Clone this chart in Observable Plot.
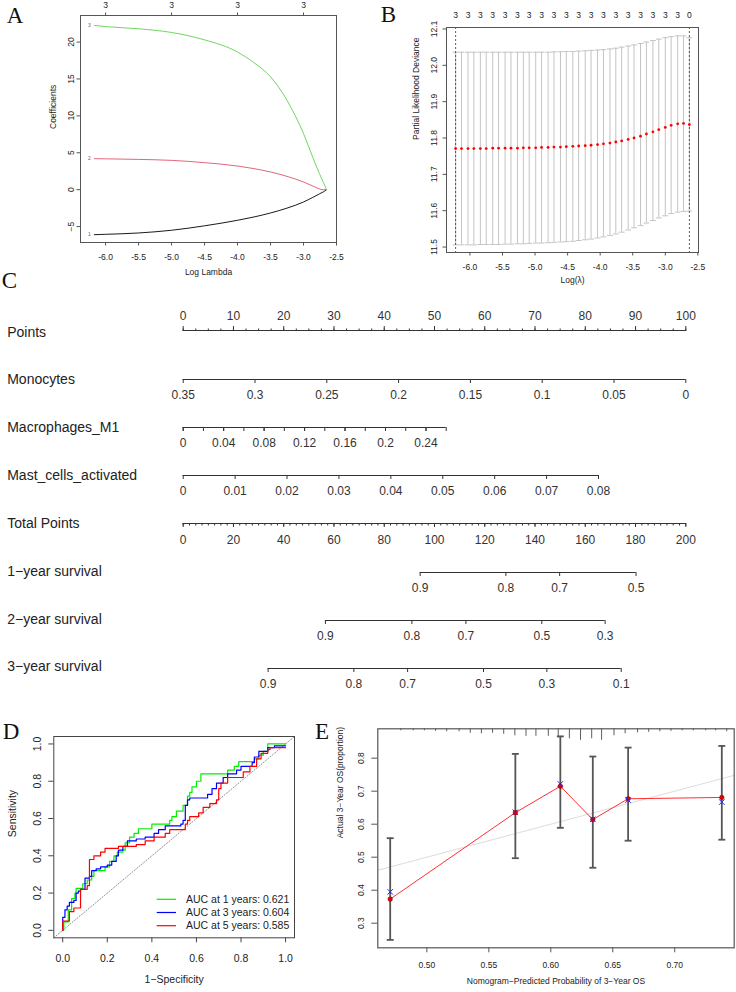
<!DOCTYPE html>
<html><head><meta charset="utf-8">
<script src="https://cdn.jsdelivr.net/npm/d3@7"></script>
<script src="https://cdn.jsdelivr.net/npm/@observablehq/plot@0.6"></script>
<style>
body{margin:0;background:#fff;}
#page{position:relative;width:736px;height:992px;overflow:hidden;background:#fff;}
</style></head><body><div id="page"></div>
<script>
// ---------- Panel A: LASSO coefficient paths ----------
const lambdaA = [-6.17, -6.0, -5.5, -5.0, -4.5, -4.0, -3.75, -3.5, -3.25, -3.0, -2.86, -2.76, -2.70, -2.65];
const coef1 = [-6.1, -6.05, -5.87, -5.5, -4.9, -4.15, -3.7, -3.16, -2.5, -1.67, -1.05, -0.58, -0.3, 0];
const coef2 = [4.2, 4.18, 4.1, 3.97, 3.66, 3.2, 2.85, 2.4, 1.8, 1.04, 0.5, 0.1, 0.0, 0];
const coef3 = [22.26, 22.1, 21.8, 21.3, 20.3, 18.65, 17.2, 15.3, 12.1, 7.6, 4.4, 2.2, 1.0, 0];
const lambdaTicks = [-6.0, -5.5, -5.0, -4.5, -4.0, -3.5, -3.0, -2.5];
const coefTicks = [-5, 0, 5, 10, 15, 20];
const dfAtA = [-6, -5, -4, -3];
const dfLabelsA = ["3", "3", "3", "3"];

// ---------- Panel B: cross-validation ----------
const cvLambda = [-6.22,-6.13,-6.03,-5.94,-5.84,-5.75,-5.65,-5.56,-5.46,-5.37,-5.27,-5.18,-5.09,-4.99,-4.90,-4.80,-4.71,-4.61,-4.52,-4.42,-4.33,-4.23,-4.14,-4.04,-3.95,-3.85,-3.76,-3.67,-3.57,-3.48,-3.38,-3.29,-3.19,-3.10,-3.00,-2.91,-2.81,-2.72,-2.63];
const cvMean = [11.771,11.771,11.771,11.771,11.771,11.771,11.772,11.772,11.772,11.772,11.772,11.773,11.773,11.773,11.774,11.774,11.775,11.775,11.776,11.777,11.778,11.779,11.780,11.782,11.784,11.786,11.789,11.792,11.796,11.800,11.805,11.811,11.817,11.823,11.829,11.835,11.839,11.840,11.837];
const cvUpper = [12.036,12.036,12.036,12.036,12.036,12.036,12.036,12.036,12.036,12.036,12.036,12.036,12.036,12.036,12.036,12.036,12.037,12.037,12.038,12.038,12.039,12.040,12.041,12.042,12.043,12.045,12.047,12.050,12.053,12.056,12.060,12.064,12.068,12.072,12.076,12.079,12.081,12.081,12.076];
const cvLower = [11.506,11.506,11.506,11.506,11.507,11.507,11.507,11.507,11.508,11.508,11.509,11.509,11.510,11.511,11.511,11.512,11.513,11.514,11.515,11.516,11.518,11.520,11.522,11.525,11.528,11.532,11.536,11.541,11.547,11.553,11.559,11.566,11.573,11.580,11.586,11.592,11.596,11.598,11.599];
const cvNonzero = ["3","3","3","3","3","3","3","3","3","3","3","3","3","3","3","3","3","3","3","0"];
const devTicks = [11.5, 11.6, 11.7, 11.8, 11.9, 12.0, 12.1];
const lambdaMin = -6.22, lambda1se = -2.63;

// ---------- Panel C: nomogram ----------
const pointsTicks = [0,10,20,30,40,50,60,70,80,90,100];
const monoTicks = [0.35,0.3,0.25,0.2,0.15,0.1,0.05,0];
const monoLabels = ["0.35","0.3","0.25","0.2","0.15","0.1","0.05","0"];
const m1Ticks = [0,0.02,0.04,0.06,0.08,0.1,0.12,0.14,0.16,0.18,0.2,0.22,0.24,0.26];
const m1Labeled = [0,0.04,0.08,0.12,0.16,0.2,0.24];
const m1Labels = ["0","0.04","0.08","0.12","0.16","0.2","0.24"];
const mastTicks = [0,0.01,0.02,0.03,0.04,0.05,0.06,0.07,0.08];
const mastLabels = ["0","0.01","0.02","0.03","0.04","0.05","0.06","0.07","0.08"];
const totalTicks = [0,20,40,60,80,100,120,140,160,180,200];
const surv1TP = [94.3, 128.4, 149.8, 180.2];
const surv1Labels = ["0.9","0.8","0.7","0.5"];
const surv2TP = [56.6, 91.0, 112.5, 142.7, 167.9];
const surv2Labels = ["0.9","0.8","0.7","0.5","0.3"];
const surv3TP = [33.8, 67.9, 89.3, 119.5, 144.7, 174.3];
const surv3Labels = ["0.9","0.8","0.7","0.5","0.3","0.1"];

// ---------- Panel D: time-dependent ROC ----------
const rocX1 = [0,0.005,0.025,0.04,0.055,0.06,0.09,0.11,0.13,0.14,0.19,0.21,0.23,0.245,0.27,0.28,0.3,0.32,0.34,0.4,0.48,0.49,0.51,0.54,0.56,0.57,0.58,0.6,0.62,0.74,0.77,0.79,0.86,0.88,0.9,0.92,1.0];
const rocY1 = [0,0.045,0.11,0.17,0.2,0.225,0.25,0.27,0.29,0.32,0.34,0.37,0.4,0.42,0.43,0.47,0.5,0.52,0.545,0.57,0.59,0.61,0.64,0.67,0.72,0.74,0.77,0.8,0.84,0.86,0.88,0.905,0.92,0.94,0.96,1.0,1.0];
const rocX3 = [0,0,0.01,0.02,0.03,0.05,0.06,0.07,0.08,0.1,0.12,0.13,0.15,0.17,0.2,0.22,0.24,0.25,0.27,0.29,0.33,0.37,0.41,0.43,0.46,0.53,0.54,0.55,0.56,0.57,0.65,0.67,0.69,0.72,0.74,0.78,0.8,0.85,0.86,0.88,0.92,0.95,1.0];
const rocY3 = [0,0.07,0.11,0.13,0.15,0.16,0.2,0.21,0.22,0.28,0.29,0.32,0.33,0.34,0.35,0.37,0.4,0.43,0.45,0.48,0.49,0.5,0.52,0.54,0.56,0.57,0.59,0.67,0.7,0.71,0.73,0.76,0.79,0.82,0.84,0.86,0.88,0.9,0.93,0.96,0.98,0.99,0.99];
const rocX5 = [0,0,0.03,0.05,0.08,0.11,0.12,0.14,0.17,0.19,0.25,0.33,0.37,0.41,0.46,0.48,0.55,0.56,0.57,0.61,0.63,0.66,0.69,0.7,0.71,0.74,0.81,0.84,0.87,0.89,0.92,0.93,1.0];
const rocY5 = [0,0.05,0.1,0.12,0.22,0.24,0.38,0.4,0.42,0.44,0.45,0.46,0.48,0.5,0.52,0.54,0.57,0.59,0.61,0.63,0.66,0.68,0.7,0.76,0.79,0.82,0.85,0.88,0.92,0.95,0.97,0.98,0.98];
const rocLegend = ["AUC at 1 years: 0.621", "AUC at 3 years: 0.604", "AUC at 5 years: 0.585"];
const rocColors = ["#00ee00", "#0000ff", "#ff0000"];
const rocTicks = [0, 0.2, 0.4, 0.6, 0.8, 1.0];

// ---------- Panel E: calibration ----------
const calPred = [0.4704, 0.5714, 0.6077, 0.6339, 0.6624, 0.738];
const calObs = [0.373, 0.635, 0.715, 0.614, 0.677, 0.681];
const calCorr = [0.395, 0.636, 0.722, 0.615, 0.673, 0.667];
const calLower = [0.2495, 0.497, 0.589, 0.468, 0.550, 0.553];
const calUpper = [0.5576, 0.813, 0.866, 0.805, 0.832, 0.837];
const rugX = [0.479,0.489,0.498,0.507,0.516,0.526,0.535,0.544,0.553,0.562,0.571,0.580,0.588,0.598,0.606,0.615,0.624,0.633,0.641,0.651,0.660,0.670,0.679,0.688,0.697,0.706,0.715,0.725,0.733,0.742];
const rugFreq = [2,2,2,2.5,3,3,4.5,5,4.5,5.5,7,7.5,7.5,7.5,9,10,11.5,10,11.5,7,5,4,3.5,3,2.5,2,2,2,2,3];
const calXTicks = [0.50, 0.55, 0.60, 0.65, 0.70];
const calYTicks = [0.3, 0.4, 0.5, 0.6, 0.7, 0.8];

// ---------- helpers ----------
const page = document.getElementById("page");
const SANS = '"Liberation Sans", Arial, Helvetica, sans-serif';
function place(node, left, top) {
  const d = document.createElement("div");
  d.style.position = "absolute"; d.style.left = left + "px"; d.style.top = top + "px";
  d.appendChild(node); page.appendChild(d);
}
const st = (fs) => ({background: "transparent", overflow: "visible", fontFamily: SANS, fontSize: fs + "px", color: "#222"});
const f1 = d => d.toFixed(1);
const f2 = d => d.toFixed(2);

// ---------- A ----------
const rowsA = (c) => lambdaA.map((x, i) => ({x, y: c[i]}));
const plotA = Plot.plot({
  width: 368, height: 300, marginLeft: 80, marginRight: 32, marginTop: 15, marginBottom: 58,
  x: {domain: [-6.38, -2.5]}, y: {domain: [-7.16, 23.6]},
  style: st(8.5),
  marks: [
    Plot.line(rowsA(coef1), {x: "x", y: "y", stroke: "#000000", curve: "monotone-x", strokeWidth: 0.9}),
    Plot.line(rowsA(coef2), {x: "x", y: "y", stroke: "#DF536B", curve: "monotone-x", strokeWidth: 0.9}),
    Plot.line(rowsA(coef3), {x: "x", y: "y", stroke: "#61D04F", curve: "monotone-x", strokeWidth: 0.9}),
    Plot.text([{x: lambdaA[0], y: coef1[0], t: "1"}, {x: lambdaA[0], y: coef2[0], t: "2"}, {x: lambdaA[0], y: coef3[0], t: "3"}],
      {x: "x", y: "y", text: "t", dx: -5, fontSize: 5, fill: "#666"}),
    Plot.frame({stroke: "#555"}),
    Plot.axisX({anchor: "bottom", label: null, ticks: lambdaTicks, tickSize: 3.5, tickPadding: 7.5, tickFormat: f1, stroke: "#555"}),
    Plot.axisX({anchor: "top", label: null, ticks: dfAtA, tickSize: 3.5, tickPadding: 4.4, tickFormat: d => dfLabelsA[dfAtA.indexOf(d)], stroke: "#555"}),
    Plot.axisY({anchor: "left", label: null, ticks: coefTicks, tickSize: 3.5, tickPadding: 3.1, tickRotate: -90, stroke: "#555"}),
    Plot.text(["Log Lambda"], {frameAnchor: "bottom", dy: 32, fill: "#222"}),
    Plot.text(["Coefficients"], {frameAnchor: "left", dx: -27, rotate: -90, fill: "#222"})
  ]
});
place(plotA, 0, 0);

// ---------- B ----------
const cvRows = cvLambda.map((x, i) => ({x, m: cvMean[i], lo: cvLower[i], hi: cvUpper[i]}));
const topAtB = cvLambda.filter((d, i) => i % 2 === 0);
const plotB = Plot.plot({
  width: 368, height: 300, marginLeft: 78, marginRight: 38, marginTop: 27, marginBottom: 48,
  x: {domain: [-6.36, -2.49]}, y: {domain: [11.485, 12.104]},
  style: st(8.5),
  marks: [
    Plot.ruleX(cvRows, {x: "x", y1: "lo", y2: "hi", stroke: "#c4c4c4"}),
    Plot.link(cvRows, {x1: d => d.x - 0.045, x2: d => d.x + 0.045, y1: "hi", y2: "hi", stroke: "#c4c4c4"}),
    Plot.link(cvRows, {x1: d => d.x - 0.045, x2: d => d.x + 0.045, y1: "lo", y2: "lo", stroke: "#c4c4c4"}),
    Plot.ruleX([lambdaMin, lambda1se], {stroke: "#333", strokeDasharray: "2,2", strokeWidth: 0.8}),
    Plot.dot(cvRows, {x: "x", y: "m", r: 1.4, fill: "#ff0000"}),
    Plot.frame({stroke: "#555"}),
    Plot.axisX({anchor: "bottom", label: null, ticks: lambdaTicks, tickSize: 3.5, tickPadding: 8.2, tickFormat: f1, stroke: "#555"}),
    Plot.axisX({anchor: "top", label: null, ticks: topAtB, tickSize: 0, tickPadding: 10, tickFormat: d => cvNonzero[topAtB.indexOf(d)]}),
    Plot.axisY({anchor: "left", label: null, ticks: devTicks, tickSize: 3.5, tickPadding: 5.9, tickRotate: -90, tickFormat: f1, stroke: "#555"}),
    Plot.text(["Log(\u03bb)"], {frameAnchor: "bottom", dy: 30, fill: "#222"}),
    Plot.text(["Partial Likelihood Deviance"], {frameAnchor: "left", dx: -30, rotate: -90, fill: "#222"})
  ]
});
place(plotB, 368, 0);

// ---------- C (nomogram rows) ----------
const fullRange = [182.7, 685.3];
const nomoRows = [
  {label: "Points", lineY: 330, top: true, domain: [0, 100], range: fullRange, ticks: pointsTicks, labels: pointsTicks.map(String), minor: d3.range(0, 100.01, 2.5), tickSize: 5, minorSize: 2.5, pad: 5.7, dy: 2},
  {label: "Monocytes", lineY: 379.3, domain: [0.35, 0], range: fullRange, ticks: monoTicks, labels: monoLabels, tickSize: 4, pad: 7.3},
  {label: "Macrophages_M1", lineY: 426.7, domain: [0, 0.26], range: [182.7, 445.7], ticks: m1Labeled, labels: m1Labels, minor: m1Ticks, tickSize: 4, minorSize: 4, pad: 7.3},
  {label: "Mast_cells_activated", lineY: 475, domain: [0, 0.08], range: [182.7, 598], ticks: mastTicks, labels: mastLabels, tickSize: 4, pad: 7.3},
  {label: "Total Points", lineY: 523.3, domain: [0, 200], range: fullRange, ticks: totalTicks, labels: totalTicks.map(String), minor: d3.range(0, 200.01, 2.5), tickSize: 4, minorSize: 2.5, pad: 7.5},
  {label: "1\u2212year survival", lineY: 571.7, domain: [0, 200], range: fullRange, ticks: surv1TP, labels: surv1Labels, tickSize: 4, pad: 7.3, dy: -1},
  {label: "2\u2212year survival", lineY: 620, domain: [0, 200], range: fullRange, ticks: surv2TP, labels: surv2Labels, tickSize: 4, pad: 7.3, dy: -1},
  {label: "3\u2212year survival", lineY: 668.3, domain: [0, 200], range: fullRange, ticks: surv3TP, labels: surv3Labels, tickSize: 4, pad: 7.3, dy: -1.5}
];
for (const r of nomoRows) {
  const H = 46, mt = r.top ? 30 : 4;
  const all = r.minor ? r.ticks.concat(r.minor) : r.ticks;
  const seg = [{lo: d3.min(all), hi: d3.max(all)}];
  const anchor = r.top ? "top" : "bottom";
  const marks = [Plot.ruleY(seg, {y: () => 0, x1: "lo", x2: "hi", stroke: "#333"})];
  if (r.minor) marks.push(Plot.axisX({anchor, label: null, ticks: r.minor, tickSize: r.minorSize, tickFormat: () => "", stroke: "#333"}));
  marks.push(Plot.axisX({anchor, label: null, ticks: r.ticks, tickSize: r.tickSize, tickPadding: r.pad, stroke: "#333", fill: "#333",
    tickFormat: d => r.labels[r.ticks.indexOf(d)]}));
  marks.push(Plot.text([r.label], {frameAnchor: "left", dx: 6.7, dy: r.dy || 0, textAnchor: "start", fontSize: 14, fill: "#222"}));
  const p = Plot.plot({
    width: 736, height: H, marginLeft: 0, marginRight: 0, marginTop: mt, marginBottom: H - mt,
    x: {domain: r.domain, range: r.range}, y: {domain: [0, 1], axis: null},
    style: st(12), marks
  });
  place(p, 0, r.lineY - mt);
}

// ---------- D ----------
const rocRows = (xs, ys) => xs.map((x, i) => ({x, y: ys[i]}));
const diagD = [-0.04, 1.04];
const plotD = Plot.plot({
  width: 320, height: 292, marginLeft: 53.3, marginRight: 26, marginTop: 36, marginBottom: 54.7,
  x: {domain: [-0.04, 1.04]}, y: {domain: [-0.04, 1.04]},
  style: st(10.5),
  marks: [
    Plot.line(diagD, {x: d => d, y: d => d, stroke: "#777", strokeDasharray: "1.2,1.8", strokeWidth: 0.8}),
    Plot.line(rocRows(rocX1, rocY1), {x: "x", y: "y", curve: "step-after", stroke: rocColors[0], strokeWidth: 1.2}),
    Plot.line(rocRows(rocX3, rocY3), {x: "x", y: "y", curve: "step-after", stroke: rocColors[1], strokeWidth: 1.2}),
    Plot.line(rocRows(rocX5, rocY5), {x: "x", y: "y", curve: "step-after", stroke: rocColors[2], strokeWidth: 1.2}),
    Plot.frame({stroke: "#444"}),
    Plot.axisX({anchor: "bottom", label: null, ticks: rocTicks, tickSize: 5, tickPadding: 11.7, tickFormat: f1, stroke: "#444"}),
    Plot.axisY({anchor: "left", label: null, ticks: rocTicks, tickSize: 5, tickPadding: 7.8, tickRotate: -90, tickFormat: f1, stroke: "#444"}),
    Plot.text(["1\u2212Specificity"], {frameAnchor: "bottom", dy: 45.4, fill: "#222"}),
    Plot.text(["Sensitivity"], {frameAnchor: "left", dx: -41.6, rotate: -90, fill: "#222"})
  ]
});
{
  const g = d3.select(plotD).append("g").attr("text-anchor", "start");
  rocLegend.forEach((t, i) => {
    const y = 199.3 + i * 13.2;
    g.append("line").attr("x1", 156.7).attr("x2", 176).attr("y1", y).attr("y2", y).attr("stroke", rocColors[i]).attr("stroke-width", 1.2);
    g.append("text").attr("x", 186).attr("y", y).attr("dy", "0.35em").attr("text-anchor", "start").attr("fill", "#222").attr("font-size", 10.5).text(t);
  });
}
place(plotD, 0, 700);

// ---------- E ----------
const yTopE = 0.889, yBotE = 0.2255, innerHE = 219;
const calRows = calPred.map((p, i) => ({p, obs: calObs[i], bc: calCorr[i], lo: calLower[i], hi: calUpper[i]}));
const rugRows = rugX.map((x, i) => ({x, f: rugFreq[i]}));
const diagE = [0.4604, 0.748];
const plotE = Plot.plot({
  width: 416, height: 292, marginLeft: 57.3, marginRight: 2.3, marginTop: 28.3, marginBottom: 44.7,
  x: {domain: [0.4604, 0.748]}, y: {domain: [yBotE, yTopE]},
  style: st(8.5),
  marks: [
    Plot.line(diagE, {x: d => d, y: d => d, stroke: "#dcdcdc", strokeWidth: 1}),
    Plot.ruleX(rugRows, {x: "x", y1: yTopE, y2: d => yTopE - d.f * (yTopE - yBotE) / innerHE, stroke: "#333", strokeWidth: 0.8}),
    Plot.ruleX(calRows, {x: "p", y1: "lo", y2: "hi", stroke: "#555", strokeWidth: 1.8}),
    Plot.link(calRows, {x1: d => d.p - 0.0028, x2: d => d.p + 0.0028, y1: "hi", y2: "hi", stroke: "#555", strokeWidth: 1.8}),
    Plot.link(calRows, {x1: d => d.p - 0.0028, x2: d => d.p + 0.0028, y1: "lo", y2: "lo", stroke: "#555", strokeWidth: 1.8}),
    Plot.line(calRows, {x: "p", y: "obs", stroke: "#ff3030", strokeWidth: 1}),
    Plot.dot(calRows, {x: "p", y: "obs", r: 2.3, fill: "#e00000", stroke: "#990000", strokeWidth: 0.5}),
    Plot.dot(calRows, {x: "p", y: "bc", r: 2.6, symbol: "times", stroke: "#2222ff", strokeWidth: 1}),
    Plot.frame({stroke: "#555", strokeWidth: 1.2}),
    Plot.axisX({anchor: "bottom", label: null, ticks: calXTicks, tickSize: 5, tickPadding: 9, tickFormat: f2, stroke: "#555"}),
    Plot.axisY({anchor: "left", label: null, ticks: calYTicks, tickSize: 6, tickPadding: 8.2, tickRotate: -90, tickFormat: f1, stroke: "#555"}),
    Plot.text(["Nomogram\u2212Predicted Probability of 3\u2212Year OS"], {frameAnchor: "bottom", dy: 36, fill: "#222"}),
    Plot.text(["Actual 3\u2212Year OS(proportion)"], {frameAnchor: "left", dx: -37.3, rotate: -90, fill: "#222"})
  ]
});
place(plotE, 320, 700);

// ---------- panel letters ----------
const panelLetters = [
  {t: "A", x: 6.7, y: 23.3}, {t: "B", x: 380.7, y: 21.7}, {t: "C", x: 1.7, y: 288.3},
  {t: "D", x: 2.7, y: 739}, {t: "E", x: 315, y: 738.5}
];
const ov = d3.create("svg").attr("width", 736).attr("height", 992)
  .style("position", "absolute").style("left", "0px").style("top", "0px").style("pointer-events", "none");
ov.selectAll("text").data(panelLetters).join("text")
  .attr("x", d => d.x).attr("y", d => d.y)
  .attr("font-family", '"Liberation Serif", "Times New Roman", serif').attr("font-size", 23).attr("fill", "#111")
  .text(d => d.t);
page.appendChild(ov.node());
</script></body></html>
